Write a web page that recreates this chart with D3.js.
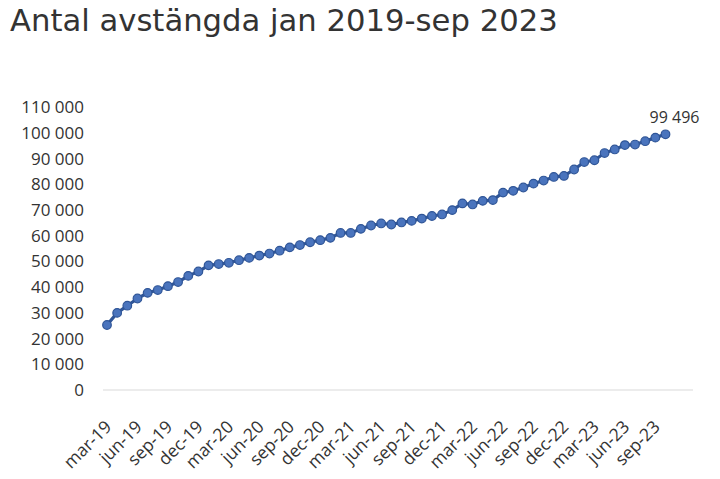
<!DOCTYPE html>
<html><head><meta charset="utf-8">
<script src="https://cdn.jsdelivr.net/npm/d3@7/dist/d3.min.js"></script>
<style>body{margin:0;background:#fff}svg{display:block}</style>
</head><body><svg id="c" width="720" height="479"></svg>
<script>
const titleText = "Antal avstängda jan 2019-sep 2023";
const categories = [
 "feb-19","mar-19","apr-19","maj-19","jun-19","jul-19","aug-19","sep-19","okt-19","nov-19","dec-19",
 "jan-20","feb-20","mar-20","apr-20","maj-20","jun-20","jul-20","aug-20","sep-20","okt-20","nov-20","dec-20",
 "jan-21","feb-21","mar-21","apr-21","maj-21","jun-21","jul-21","aug-21","sep-21","okt-21","nov-21","dec-21",
 "jan-22","feb-22","mar-22","apr-22","maj-22","jun-22","jul-22","aug-22","sep-22","okt-22","nov-22","dec-22",
 "jan-23","feb-23","mar-23","apr-23","maj-23","jun-23","jul-23","aug-23","sep-23"];
const values = [
 25300,30000,32800,35600,37800,38900,40400,42000,44400,46100,48500,
 49000,49500,50500,51400,52300,53100,54200,55500,56400,57500,58300,
 59200,61100,61100,62700,64000,64800,64400,65200,65800,66700,67700,
 68300,70000,72600,72200,73600,73900,76800,77500,78800,80300,81500,
 82900,83300,85800,88700,89400,92200,93600,95300,95500,96800,98200,99496];
const labelMonths = ["mar","jun","sep","dec"];
const yTicks = [0,10000,20000,30000,40000,50000,60000,70000,80000,90000,100000,110000];
const lastLabel = "99 496";

const svg = d3.select("#c");
const fmt = d3.formatLocale({decimal:",", thousands:" ", grouping:[3], currency:["",""]}).format(",d");

// title
const t = svg.append("text").attr("x",10).attr("y",31)
  .attr("font-family","DejaVu Sans, Verdana, sans-serif").attr("font-size",28)
  .attr("fill","#333").text(titleText);
const tw = t.node().getComputedTextLength();
t.attr("font-size", 28*548/tw);

const x = d3.scaleLinear().domain([0, categories.length-1]).range([107, 665.5]);
const y = d3.scaleLinear().domain([0,110000]).range([390,107.3]);

// baseline
svg.append("line").attr("x1",103).attr("x2",693).attr("y1",y(0)).attr("y2",y(0))
  .attr("stroke","#d9d9d9").attr("stroke-width",1);

// y axis
const ya = svg.append("g").attr("transform","translate(84,0)")
  .call(d3.axisLeft(y).tickValues(yTicks).tickSize(0).tickPadding(0).tickFormat(fmt));
ya.select(".domain").remove();
ya.selectAll("text").attr("font-family","Open Sans, sans-serif").attr("font-size",17).attr("fill","#333");

// x axis
const tickIdx = categories.map((c,i)=>i).filter(i=>labelMonths.includes(categories[i].slice(0,3)));
const xa = svg.append("g").attr("transform",`translate(0,${y(0)})`)
  .call(d3.axisBottom(x).tickValues(tickIdx).tickSize(0).tickFormat(i=>categories[i]));
xa.select(".domain").remove();
xa.selectAll("text").attr("font-family","Open Sans, sans-serif").attr("font-size",17.5).attr("fill","#333")
  .attr("x",0).attr("y",0).attr("dy",0).attr("text-anchor","end")
  .attr("transform","translate(-5,38) rotate(-45)");

// line
const line = d3.line().x((d,i)=>x(i)).y(d=>y(d));
svg.append("path").datum(values).attr("d",line).attr("fill","none")
  .attr("stroke","#2f5597").attr("stroke-width",3.2).attr("stroke-linejoin","round");
svg.append("g").selectAll("circle").data(values).join("circle")
  .attr("cx",(d,i)=>x(i)).attr("cy",d=>y(d)).attr("r",4.3)
  .attr("fill","#4a74bd").attr("stroke","#2f5597").attr("stroke-width",1.2);

// data label
const li = values.length-1;
svg.append("text").attr("x",x(li)+9).attr("y",y(values[li])-11)
  .attr("text-anchor","middle").attr("font-family","Open Sans, sans-serif").attr("font-size",16)
  .attr("fill","#333").text(lastLabel);
</script></body></html>
